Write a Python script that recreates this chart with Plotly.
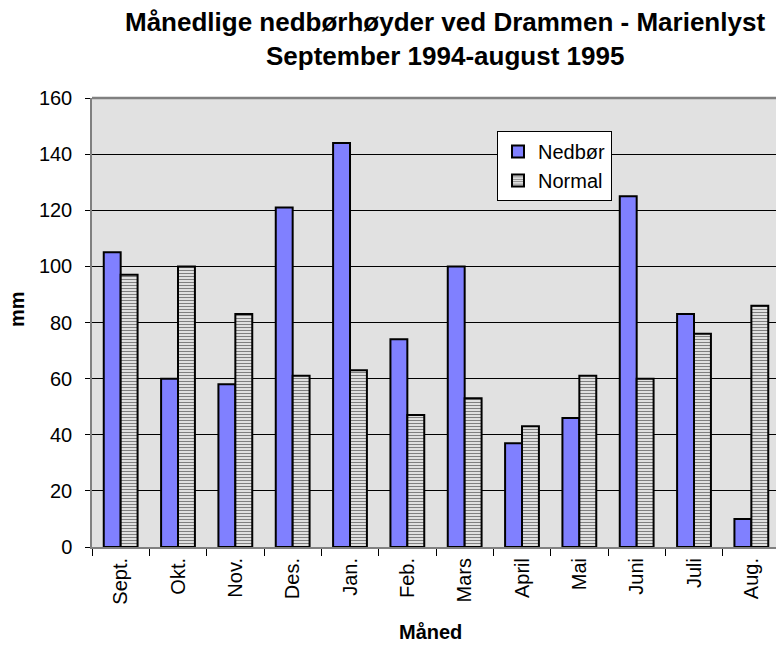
import plotly.graph_objects as go

months = ["Sept.", "Okt.", "Nov.", "Des.", "Jan.", "Feb.", "Mars", "April", "Mai", "Juni", "Juli", "Aug."]
nedbor = [105, 60, 58, 121, 144, 74, 100, 37, 46, 125, 83, 10]
normal = [97, 100, 83, 61, 63, 47, 53, 43, 61, 60, 76, 86]
y_ticks = [0, 20, 40, 60, 80, 100, 120, 140, 160]
title_lines = ["Månedlige nedbørhøyder ved Drammen - Marienlyst", "September 1994-august 1995"]

FONT = "Liberation Sans, Arial, sans-serif"
W, H = 776, 646
L, R, T, B = 92, 0, 98, 99
PW, PH = W - L - R, H - T - B

fig = go.Figure()
fig.add_trace(go.Bar(
    x=months, y=nedbor, name="Nedbør",
    marker=dict(color="#8080ff", line=dict(color="black", width=2)),
))
fig.add_trace(go.Bar(
    x=months, y=normal, name="Normal",
    marker=dict(color="white", line=dict(color="black", width=2),
                pattern=dict(shape="-", fgcolor="black", bgcolor="white", size=3, solidity=0.5)),
))

fig.update_layout(
    width=W, height=H,
    margin=dict(l=L, r=R, t=T, b=B),
    paper_bgcolor="white",
    plot_bgcolor="#e1e1e1",
    barmode="group",
    bargap=0.41,
    bargroupgap=0,
    font=dict(family=FONT, color="black", size=20),
    legend=dict(
        x=(497 - L) / PW, y=(547 - 131) / PH,
        xanchor="left", yanchor="top",
        bgcolor="white", bordercolor="black", borderwidth=1,
        font=dict(family=FONT, size=20, color="black"),
        tracegroupgap=0,
    ),
    showlegend=True,
)

fig.update_xaxes(
    range=[-0.5, 11.43],
    showgrid=False,
    showline=True, linecolor="#808080", linewidth=2,
    ticks="outside", tickson="boundaries", ticklen=7, tickcolor="black", tickwidth=1,
    tickangle=-90,
    ticklabelstandoff=1,
    tickfont=dict(family=FONT, size=20, color="black"),
    fixedrange=True,
)
fig.update_yaxes(
    range=[0, 160],
    tickvals=y_ticks,
    showgrid=True, gridcolor="black", gridwidth=1,
    showline=True, linecolor="#808080", linewidth=1.5,
    ticks="outside", ticklen=5, tickcolor="black", tickwidth=1,
    ticklabelstandoff=9,
    tickfont=dict(family=FONT, size=20, color="black"),
    zeroline=False,
)

# top border of plot area
fig.add_shape(type="line", xref="paper", yref="paper", x0=0, x1=1, y0=1, y1=1,
              line=dict(color="#808080", width=2.5))

# title lines
for txt, ypx in zip(title_lines, [22, 56]):
    fig.add_annotation(text="<b>" + txt + "</b>", xref="paper", yref="paper",
                       x=(445 - L) / PW, y=(547 - ypx) / PH,
                       xanchor="center", yanchor="middle", showarrow=False,
                       font=dict(family=FONT, size=26, color="black"))

fig.add_annotation(text="<b>Måned</b>", xref="paper", yref="paper",
                   x=(430 - L) / PW, y=(547 - 632) / PH,
                   xanchor="center", yanchor="middle", showarrow=False,
                   font=dict(family=FONT, size=20, color="black"))
fig.add_annotation(text="<b>mm</b>", xref="paper", yref="paper",
                   x=(17 - L) / PW, y=(547 - 309) / PH,
                   xanchor="center", yanchor="middle", showarrow=False, textangle=-90,
                   font=dict(family=FONT, size=20, color="black"))

fig.write_html("out.html", config={"displayModeBar": False},
               post_script="document.body.style.margin='0';document.body.style.overflow='hidden';")
